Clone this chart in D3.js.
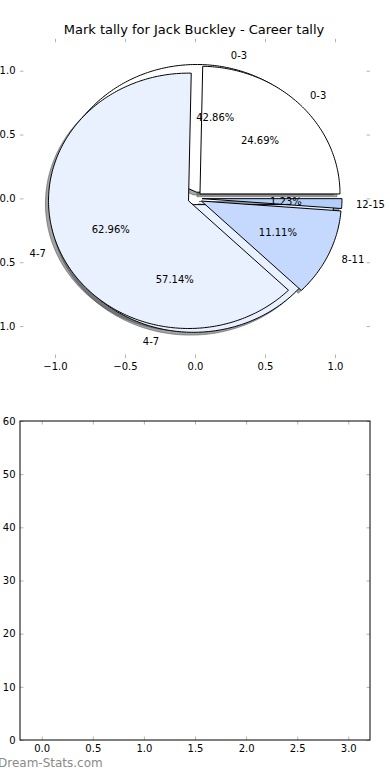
<!DOCTYPE html>
<html><head><meta charset="utf-8">
<script src="https://cdn.jsdelivr.net/npm/d3@7"></script>
<style>body{margin:0;background:#fff}svg{display:block;font-family:"DejaVu Sans",sans-serif}</style>
</head><body><svg id="c" width="390" height="780"></svg>
<script>
// ---- data ----
const chartTitle = "Mark tally for Jack Buckley - Career tally";
const allCategories = ["0-3", "4-7", "8-11", "12-15"];
const categoryColors = ["#ffffff", "#eaf1fe", "#c4d9fd", "#b3cefb"];
const outerCategories = ["0-3", "4-7", "8-11", "12-15"];
const outerValues = [20, 51, 9, 1];
const innerCategories = ["0-3", "4-7"];
const innerValues = [3, 4];
const pieTicks = [-1.0, -0.5, 0.0, 0.5, 1.0];
const barXTicks = [0, 0.5, 1, 1.5, 2, 2.5, 3];
const barYTicks = [0, 10, 20, 30, 40, 50, 60];
const watermark = "Dream-Stats.com";

const svg = d3.select("#c");
const explode = 0.05, shadowOff = -0.022, labelDist = 1.1, pctDist = 0.6;

const pieX = d3.scaleLinear().domain([-1.25, 1.25]).range([20, 370]);
const pieY = d3.scaleLinear().domain([-1.25, 1.25]).range([358, 38.8]);
const color = d3.scaleOrdinal().domain(allCategories).range(categoryColors);
const fmtTick = d3.format(".1f");
const minus = s => s.replace("-", "\u2212");

function wedgePath(cx, cy, a0, a1) {
  const n = Math.max(6, Math.ceil((a1 - a0) / (Math.PI / 180)));
  const p = d3.path();
  p.moveTo(pieX(cx), pieY(cy));
  for (let i = 0; i <= n; i++) {
    const a = a0 + (a1 - a0) * i / n;
    p.lineTo(pieX(cx + Math.cos(a)), pieY(cy + Math.sin(a)));
  }
  p.closePath();
  return p.toString();
}

const pieGen = d3.pie().sort(null).value(d => d.v);
function build(cats, vals) {
  const total = d3.sum(vals);
  return pieGen(cats.map((c, i) => ({c, v: vals[i]}))).map(a => {
    const mid = (a.startAngle + a.endAngle) / 2;
    return {c: a.data.c, v: a.data.v, pct: a.data.v / total * 100,
      a0: a.startAngle, a1: a.endAngle, mid,
      cx: explode * Math.cos(mid), cy: explode * Math.sin(mid)};
  });
}
const inner = build(innerCategories, innerValues);
const outer = build(outerCategories, outerValues);

// pie axes ticks (gray, inward, all four sides)
const tickCol = "#b4b4b4";
function styleAxis(g, showLabels) {
  g.select(".domain").remove();
  g.selectAll(".tick line").attr("stroke", tickCol).attr("stroke-width", 1);
  g.selectAll(".tick text").attr("fill", "#000").attr("font-size", 10)
    .attr("font-family", "DejaVu Sans");
  if (!showLabels) g.selectAll(".tick text").remove();
}
svg.append("g").attr("transform", "translate(0,358)")
  .call(d3.axisBottom(pieX).tickValues(pieTicks).tickSizeInner(-3.5).tickSizeOuter(0).tickPadding(5).tickFormat(d => minus(fmtTick(d))))
  .call(g => styleAxis(g, true));
svg.append("g").attr("transform", "translate(0,38.8)")
  .call(d3.axisTop(pieX).tickValues(pieTicks).tickSizeInner(-3.5).tickSizeOuter(0))
  .call(g => styleAxis(g, false));
svg.append("g").attr("transform", "translate(20,0)")
  .call(d3.axisLeft(pieY).tickValues(pieTicks).tickSizeInner(-3.5).tickSizeOuter(0).tickPadding(4.5).tickFormat(d => minus(fmtTick(d))))
  .call(g => styleAxis(g, true));
svg.append("g").attr("transform", "translate(370,0)")
  .call(d3.axisRight(pieY).tickValues(pieTicks).tickSizeInner(-3.5).tickSizeOuter(0))
  .call(g => styleAxis(g, false));

// shadows (drawn beneath all wedges)
const shadowFill = c => { const r = d3.rgb(c); return d3.rgb(r.r * 0.3, r.g * 0.3, r.b * 0.3).toString(); };
const gShadow = svg.append("g");
[inner, outer].forEach(ws => {
  gShadow.selectAll(null).data(ws).enter().append("path")
    .attr("d", d => wedgePath(d.cx + shadowOff, d.cy + shadowOff, d.a0, d.a1))
    .attr("fill", d => shadowFill(color(d.c))).attr("fill-opacity", 0.5)
    .attr("stroke", d => shadowFill(color(d.c))).attr("stroke-opacity", 0.5).attr("stroke-width", 1);
});
// wedges
[inner, outer].forEach(ws => {
  svg.append("g").selectAll("path").data(ws).enter().append("path")
    .attr("d", d => wedgePath(d.cx, d.cy, d.a0, d.a1))
    .attr("fill", d => color(d.c)).attr("stroke", "#000").attr("stroke-width", 1)
    .attr("stroke-linejoin", "miter");
});
// labels
[inner, outer].forEach(ws => {
  const g = svg.append("g").attr("font-size", 10).attr("fill", "#000");
  g.selectAll(".lab").data(ws).enter().append("text")
    .attr("x", d => pieX(d.cx + labelDist * Math.cos(d.mid)))
    .attr("y", d => pieY(d.cy + labelDist * Math.sin(d.mid)))
    .attr("dy", "0.35em")
    .attr("text-anchor", d => (d.cx + labelDist * Math.cos(d.mid)) > 0 ? "start" : "end")
    .text(d => d.c);
  g.selectAll(".pct").data(ws).enter().append("text")
    .attr("x", d => pieX(d.cx + pctDist * Math.cos(d.mid)))
    .attr("y", d => pieY(d.cy + pctDist * Math.sin(d.mid)))
    .attr("dy", "0.35em").attr("text-anchor", "middle")
    .text(d => d.pct.toFixed(2) + "%");
});

svg.append("text").attr("x", 194).attr("y", 34).attr("text-anchor", "middle")
  .attr("font-size", 13).text(chartTitle);

// second (empty) axes
const barX = d3.scaleLinear().domain([-0.2125, 3.2125]).range([20, 370]);
const barY = d3.scaleLinear().domain([0, 60]).range([740, 421]);
svg.append("g").attr("transform", "translate(0,740)")
  .call(d3.axisBottom(barX).tickValues(barXTicks).tickSizeInner(-3.5).tickSizeOuter(0).tickPadding(5).tickFormat(fmtTick))
  .call(g => styleAxis(g, true));
svg.append("g").attr("transform", "translate(0,421)")
  .call(d3.axisTop(barX).tickValues(barXTicks).tickSizeInner(-3.5).tickSizeOuter(0))
  .call(g => styleAxis(g, false));
svg.append("g").attr("transform", "translate(20,0)")
  .call(d3.axisLeft(barY).tickValues(barYTicks).tickSizeInner(-3.5).tickSizeOuter(0).tickPadding(4.5).tickFormat(d3.format("d")))
  .call(g => styleAxis(g, true));
svg.append("g").attr("transform", "translate(370,0)")
  .call(d3.axisRight(barY).tickValues(barYTicks).tickSizeInner(-3.5).tickSizeOuter(0))
  .call(g => styleAxis(g, false));
svg.append("rect").attr("x", barX.range()[0]).attr("y", barY.range()[1])
  .attr("width", barX.range()[1] - barX.range()[0]).attr("height", barY.range()[0] - barY.range()[1])
  .attr("fill", "none").attr("stroke", "#000").attr("stroke-width", 1);

svg.append("text").attr("x", -2).attr("y", 767).attr("font-size", 12)
  .attr("fill", "#8a8a8a").text(watermark);
</script></body></html>
